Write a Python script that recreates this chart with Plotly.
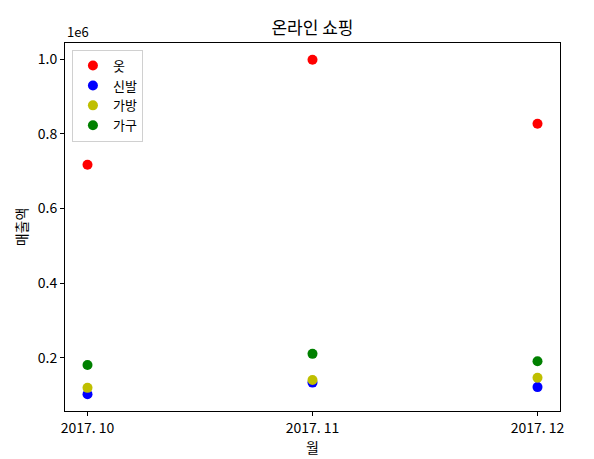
import plotly.graph_objects as go

months = ["2017. 10", "2017. 11", "2017. 12"]
clothes = [717000, 998000, 827000]
shoes = [103000, 134000, 122000]
bags = [120000, 141000, 147000]
furniture = [181000, 211000, 191000]

series = [("옷", clothes, "#ff0000"), ("신발", shoes, "#0000ff"),
          ("가방", bags, "#bfbf00"), ("가구", furniture, "#008000")]

ytick_vals = [200000, 400000, 600000, 800000, 1000000]
ytick_text = ["0.2", "0.4", "0.6", "0.8", "1.0"]

FONT = "Noto Sans CJK KR"

fig = go.Figure()
for name, vals, color in series:
    fig.add_trace(go.Scatter(x=months, y=vals, mode="markers", name=name,
                             marker=dict(color=color, size=10)))

axis_common = dict(showline=True, linecolor="black", linewidth=1, mirror=True,
                   ticks="outside", ticklen=4, tickcolor="black", showgrid=False,
                   zeroline=False, tickfont=dict(size=14, color="black", family=FONT))

W, H = 586, 451
fig.update_layout(
    width=W, height=H,
    margin=dict(l=57, r=34, t=35, b=48),
    paper_bgcolor="white", plot_bgcolor="white",
    font=dict(family=FONT, color="black"),
    title=dict(text="온라인 쇼핑", x=0.5, xref="paper", xanchor="center",
               y=1 - 20 / H, yanchor="middle", font=dict(size=17, color="black")),
    xaxis=dict(type="category", range=[-0.1, 2.1],
               title=dict(text="월", standoff=0, font=dict(size=14)), **axis_common),
    yaxis=dict(range=[58000, 1043000], tickvals=ytick_vals, ticktext=ytick_text,
               title=dict(text="매출액", standoff=6, font=dict(size=14)), **axis_common),
    legend=dict(x=0.014, y=0.982, xanchor="left", yanchor="top",
                bordercolor="#d0d0d0", borderwidth=1, bgcolor="rgba(255,255,255,0.8)",
                font=dict(size=13, family=FONT), tracegroupgap=0, itemwidth=30),
    showlegend=True,
)
fig.add_annotation(text="1e6", xref="paper", yref="paper", x=0, y=1, xanchor="left",
                   yanchor="bottom", showarrow=False, font=dict(size=13, family=FONT),
                   yshift=0)

fig.write_html("out.html")
